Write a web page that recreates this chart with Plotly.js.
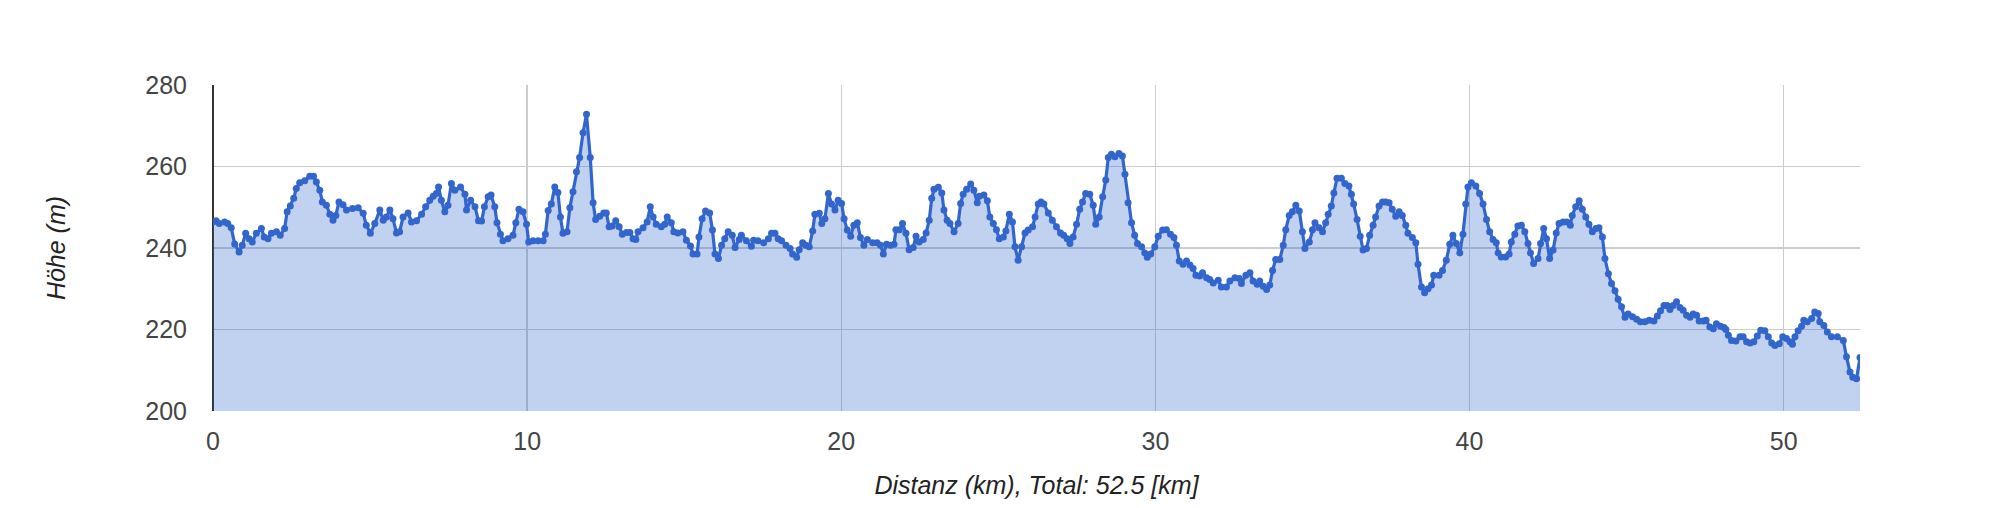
<!DOCTYPE html>
<html>
<head>
<meta charset="utf-8">
<script src="https://cdn.plot.ly/plotly-3.0.1.min.js"></script>
<style>html,body{margin:0;padding:0;background:#fff;}#chart{width:1999px;height:508px;}</style>
</head>
<body>
<div id="chart"></div>
<script>
const distKm = [
0,0.1,0.2,0.37,0.47,0.58,0.69,0.83,0.93,1.04,1.15,1.25,1.38,1.54,1.63,1.75,1.86,2.02,2.14,2.28,2.36,2.46,2.57,2.65,2.76,2.92,3.08,3.2,3.29,3.4,3.48,3.61,3.72,3.82,3.91,4.01,4.14,4.25,4.44,4.62,4.78,4.88,5.01,5.15,5.31,5.42,5.52,5.63,5.73,5.84,5.94,6.05,6.21,6.32,6.48,6.64,6.77,6.9,7.01,7.11,7.18,7.27,7.38,7.48,7.59,7.7,7.88,8.02,8.07,8.2,8.34,8.45,8.55,8.64,8.76,8.85,
8.97,9.04,9.15,9.23,9.39,9.55,9.64,9.74,9.87,9.98,10.05,10.19,10.35,10.51,10.58,10.67,10.77,10.88,10.98,11.06,11.14,11.27,11.36,11.46,11.57,11.67,11.78,11.89,12.01,12.1,12.18,12.31,12.44,12.52,12.61,12.71,12.82,12.93,13.03,13.16,13.27,13.37,13.46,13.53,13.69,13.82,13.92,14.01,14.11,14.27,14.38,14.46,14.59,14.67,14.8,14.96,15.07,15.2,15.28,15.41,15.47,15.57,15.68,15.81,15.9,15.98,16.09,16.19,16.29,16.4,16.53,16.62,16.75,16.82,16.98,17.14,17.21,17.35,17.53,
17.68,17.78,17.89,17.99,18.1,18.24,18.37,18.45,18.58,18.66,18.77,18.87,18.98,19.09,19.16,19.3,19.38,19.48,19.59,19.69,19.8,19.9,20.01,20.09,20.19,20.3,20.4,20.51,20.61,20.72,20.83,21,21.14,21.25,21.34,21.44,21.57,21.68,21.74,21.85,21.95,22.06,22.16,22.29,22.38,22.48,22.61,22.7,22.8,22.88,22.95,23.09,23.2,23.27,23.37,23.46,23.59,23.72,23.8,23.88,23.99,24.12,24.22,24.33,24.39,24.54,24.65,24.73,24.84,24.94,25.03,25.16,25.24,25.35,25.45,25.53,25.63,25.74,25.85,25.95,26.09,26.17,26.27,26.36,
26.45,26.59,26.72,26.85,26.98,27.08,27.19,27.28,27.38,27.49,27.59,27.68,27.78,27.91,28.02,28.1,28.21,28.32,28.42,28.5,28.6,28.71,28.84,28.95,29.03,29.13,29.24,29.34,29.43,29.56,29.66,29.74,29.85,29.98,30.09,30.23,30.35,30.48,30.59,30.67,30.76,30.88,30.99,31.1,31.2,31.29,31.41,31.5,31.63,31.73,31.84,32,32.1,32.26,32.37,32.53,32.67,32.74,32.88,33.01,33.11,33.24,33.32,33.43,33.54,33.64,33.73,33.83,33.96,34.07,34.15,34.26,34.36,34.47,34.58,34.68,34.76,34.9,35,35.08,35.21,35.32,
35.42,35.5,35.6,35.68,35.78,35.92,36.03,36.16,36.24,36.31,36.42,36.52,36.61,36.72,36.82,36.93,37.01,37.12,37.23,37.33,37.44,37.54,37.65,37.76,37.86,37.97,38.04,38.18,38.29,38.36,38.47,38.57,38.68,38.79,38.86,39.03,39.14,39.26,39.37,39.47,39.58,39.69,39.79,39.88,39.95,40.06,40.2,40.32,40.43,40.54,40.64,40.75,40.85,40.91,41.01,41.15,41.26,41.33,41.44,41.54,41.65,41.76,41.86,41.94,42.04,42.18,42.26,42.36,42.45,42.55,42.66,42.76,42.85,42.98,43.1,43.21,43.27,43.38,43.49,43.59,43.7,43.8,43.91,44.02,44.12,
44.23,44.31,44.42,44.52,44.63,44.73,44.84,44.95,45.05,45.19,45.32,45.44,45.58,45.72,45.87,45.98,46.08,46.19,46.29,46.38,46.48,46.59,46.7,46.8,46.91,47.02,47.12,47.23,47.31,47.44,47.53,47.65,47.76,47.86,47.99,48.1,48.16,48.24,48.34,48.48,48.61,48.71,48.82,48.93,49.05,49.16,49.27,49.4,49.51,49.62,49.72,49.86,49.97,50.09,50.2,50.28,50.36,50.46,50.57,50.64,50.75,50.89,50.99,51.1,51.15,51.28,51.39,51.52,51.71,51.9,52,52.11,52.2,52.32,52.43
];
const elevM = [
246.4,246.7,246,246.4,246,245,241,239,240.7,243.6,242.3,241.5,243.6,244.8,242.7,242.3,243.6,244,243.1,244.8,248.9,250.3,252.2,254.6,256,256.5,257.6,257.6,256.2,254.2,251.3,250.5,248.3,246.8,248,251.3,250.6,249.3,249.7,249.9,248.5,245.6,243.6,246,249.3,246.8,247.6,249.3,247.2,243.7,244,247.6,248.6,246.4,246.7,248.3,250.1,251.7,252.7,253.4,255,251.7,248.9,250.5,255.8,254.2,255,253.2,249.3,251.7,250.1,246.7,246.6,250.1,252.6,253,
250.1,246.2,243.4,241.8,242.3,243.1,246.2,249.5,248.9,245.8,241.5,241.8,241.8,241.8,243.4,249.2,250.8,255,253.6,247.6,243.6,244,249.9,253.8,258.7,262.2,268.3,272.8,262.2,251.1,247,247.8,248.6,248.6,245.2,245.4,246.7,245.2,243.4,243.8,243.8,242.3,242.1,244,245,246.4,250.1,247.6,245.8,245.2,245.8,247.6,246.2,244,243.7,244,241.9,240.5,238.5,238.5,242.7,247.2,249.1,248.6,244.4,238.5,237.4,240.7,242.3,244,243.1,240.1,242.1,243.1,241.8,240.4,241.9,241.8,241.3,
242.3,243.6,243.6,242.3,241.8,240.7,239.9,238.5,237.7,239.6,241.3,240.7,240.3,244.2,248.3,248.5,246,247.2,253.4,250.8,249.3,251.7,250.9,247.2,244.4,242.9,245.6,246.2,242.6,240.7,242.1,241.3,241.3,240.7,238.5,240.9,240.7,240.9,244.5,244.5,246,243.6,239.6,240.1,242.9,241.5,242.1,243.7,246.8,252.2,254.4,254.9,253.5,249.3,246.8,246,244,246,250.9,253.2,254.4,255.7,254.2,251.1,252.7,253,251.6,247.6,246,244.5,242.3,242.7,244.2,248.3,246.4,240.3,237,240.3,243.7,244.4,245.2,247.6,250.8,251.3,
250.8,248.6,246.8,245.2,243.7,243.1,242.3,241.1,242.7,245.8,249.5,251.3,253.4,253.2,250.5,245.8,247.6,252.6,256.7,262.2,263,262.4,263.2,262.6,258.1,251.1,246.2,243.1,241.1,240.3,238.8,237.7,238.5,240.3,242.9,244.4,244.5,243.4,242.6,240.7,236.8,236,236.8,235.8,235,233.3,233.1,233.9,232.7,232.3,231.4,232.1,230.4,230.4,231.9,232.7,232.5,231.3,233.3,233.9,231.9,231.1,231.9,230.6,229.8,230.9,234.5,237.2,237.2,240.7,244.5,248,248.9,250.5,249.1,244,239.9,241.5,244.5,246.2,245,244,
246.2,248.3,250.3,253.5,257.1,257.1,255.8,255.2,253.2,250.8,247,242.9,239.5,239.9,243.1,245.6,247.6,250.3,251.3,251.3,251.1,249.5,247.8,248.9,248,245.6,243.6,242.6,241.3,236,230.4,229,230,230.9,233.3,233.3,234.5,237,240.9,243.1,241.1,238.8,243.4,250.8,255,256,255.2,253.4,250.8,247,244,242.1,241.3,238.8,237.8,237.8,238.5,241.5,243.4,245.4,245.6,244,241.1,238.8,236.2,237.4,241.1,244.8,242.3,237.4,239.5,243.7,246,246.4,246.4,245.6,248,250.1,251.6,249.5,247.6,245.8,244,244.8,245,
242.7,237.4,233.7,231.3,229.5,227.4,225.6,223,223.8,223.1,222.5,221.9,221.9,222.3,222.1,223.3,224.6,225.9,225.9,224.9,225.9,226.8,225.4,224.7,223.5,223,223.8,223.5,222.1,222.1,222.3,220.6,220.2,221.4,220.8,220.5,220,218.6,217.3,217.2,218.2,218.2,217,216.7,217,218.4,219.8,219.7,218.2,216.7,216.1,216.5,218.2,217.8,217,216.4,218.2,219.7,220.8,222.3,221.9,222.7,224.3,223.9,221.9,221,219.4,218.2,218.2,217.3,213.3,209.6,208.3,207.9,213.1
];
const xTickVals = [0, 10, 20, 30, 40, 50];
const yTickVals = [200, 220, 240, 260, 280];
const xTitle = 'Distanz (km), Total: 52.5 [km]';
const yTitle = 'Höhe (m)';

const trace = {
  x: distKm, y: elevM, type: 'scatter', mode: 'lines+markers',
  fill: 'tozeroy', fillcolor: 'rgba(51,102,204,0.3)',
  line: {color: '#3366cc', width: 3.2},
  marker: {color: '#3366cc', size: 7},
  hoverinfo: 'skip'
};
const fontFam = '"Liberation Sans", Arial, sans-serif';
const layout = {
  width: 1999, height: 508,
  margin: {l: 213, r: 139, t: 85, b: 97},
  paper_bgcolor: '#fff', plot_bgcolor: '#fff',
  showlegend: false,
  font: {family: fontFam, size: 25, color: '#444'},
  xaxis: {
    range: [0, distKm[distKm.length - 1]],
    tickvals: xTickVals, ticktext: xTickVals.map(String),
    showgrid: true, gridcolor: '#cccccc', gridwidth: 1.5,
    zeroline: true, zerolinecolor: '#333333', zerolinewidth: 2,
    showline: false,
    ticks: 'outside', ticklen: 8, tickcolor: 'rgba(0,0,0,0)',
    tickfont: {family: fontFam, size: 25, color: '#444'},
    title: {text: xTitle, font: {family: fontFam, size: 25, color: '#222', style: 'italic'}, standoff: 22}
  },
  yaxis: {
    range: [200, 280],
    tickvals: yTickVals, ticktext: yTickVals.map(String),
    showgrid: true, gridcolor: '#cccccc', gridwidth: 1.5,
    zeroline: false, showline: false,
    ticks: 'outside', ticklen: 20, tickcolor: 'rgba(0,0,0,0)',
    tickfont: {family: fontFam, size: 25, color: '#444'},
    title: {text: yTitle, font: {family: fontFam, size: 25, color: '#222', style: 'italic'}, standoff: 72}
  }
};
Plotly.newPlot('chart', [trace], layout, {staticPlot: true, displayModeBar: false});
</script>
</body>
</html>
